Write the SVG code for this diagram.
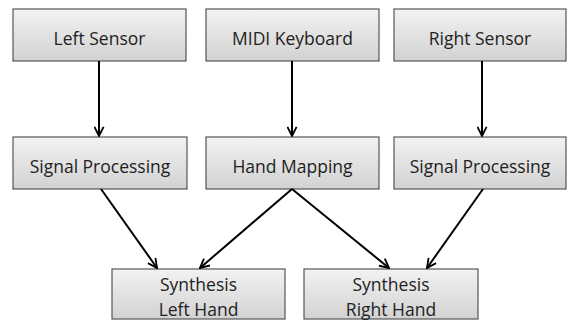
<svg xmlns="http://www.w3.org/2000/svg" width="568" height="320" viewBox="0 0 568 320">
<defs>
<linearGradient id="g" x1="0" y1="0" x2="0" y2="1">
<stop offset="0" stop-color="#f2f2f2"/>
<stop offset="1" stop-color="#d2d2d2"/>
</linearGradient>
<marker id="ah" viewBox="0 0 12 12" refX="11" refY="6" markerWidth="11" markerHeight="11" markerUnits="userSpaceOnUse" orient="auto">
<path d="M1,1 L11,6 L1,11" fill="none" stroke="#000" stroke-width="2"/>
</marker>
</defs>
<style>
.box{fill:url(#g);stroke:#555;stroke-width:1.2}
.t{font-family:"Open Sans","Liberation Sans",sans-serif;font-size:17.5px;fill:#222;text-anchor:middle}
.c{stroke:#000;stroke-width:2;fill:none;marker-end:url(#ah)}
</style>
<rect width="568" height="320" fill="#fff"/>
<g id="left-sensor"><rect class="box" x="13" y="9" width="173" height="52"/><text class="t" x="99.5" y="45">Left Sensor</text></g>
<g id="midi-keyboard"><rect class="box" x="206" y="9" width="173" height="52"/><text class="t" x="292.5" y="45">MIDI Keyboard</text></g>
<g id="right-sensor"><rect class="box" x="394" y="9" width="172" height="52"/><text class="t" x="480" y="45">Right Sensor</text></g>
<g id="sp-left"><rect class="box" x="13" y="137" width="174" height="52"/><text class="t" x="100" y="173">Signal Processing</text></g>
<g id="hand-mapping"><rect class="box" x="206" y="137" width="173" height="52"/><text class="t" x="292.5" y="173">Hand Mapping</text></g>
<g id="sp-right"><rect class="box" x="394" y="137" width="172" height="52"/><text class="t" x="480" y="173">Signal Processing</text></g>
<g id="synth-left"><rect class="box" x="112" y="269" width="173" height="50"/><text class="t" x="198.5" y="291">Synthesis</text><text class="t" x="198.5" y="316">Left Hand</text></g>
<g id="synth-right"><rect class="box" x="304" y="269" width="174" height="50"/><text class="t" x="391" y="291">Synthesis</text><text class="t" x="391" y="316">Right Hand</text></g>
<g id="connectors">
<line class="c" x1="99" y1="61" x2="99" y2="136"/>
<line class="c" x1="292" y1="61" x2="292" y2="136"/>
<line class="c" x1="482" y1="61" x2="482" y2="136"/>
<line class="c" x1="101" y1="189" x2="157" y2="268"/>
<line class="c" x1="292" y1="189" x2="200" y2="268"/>
<line class="c" x1="292" y1="189" x2="389" y2="268"/>
<line class="c" x1="483" y1="189" x2="427" y2="268"/>
</g>
</svg>
